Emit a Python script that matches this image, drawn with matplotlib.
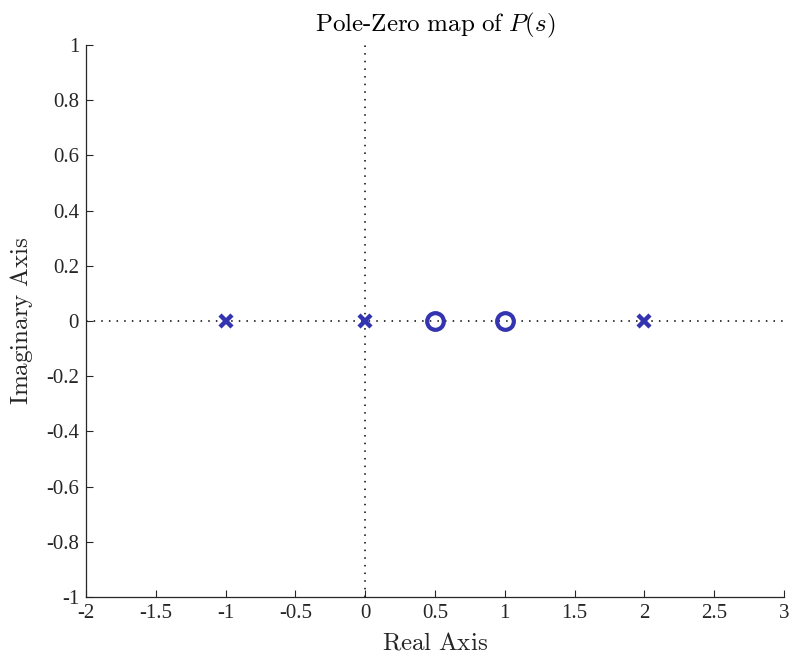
import numpy as np
import matplotlib.pyplot as plt
import matplotlib

matplotlib.rcParams['font.family'] = ['Liberation Serif', 'DejaVu Serif']
matplotlib.rcParams['mathtext.fontset'] = 'cm'

# poles and zeros of P(s)
pole_re = [-1.0, 0.0, 2.0]
pole_im = [0.0, 0.0, 0.0]
zero_re = [0.5, 1.0]
zero_im = [0.0, 0.0]

xticks = [-2, -1.5, -1, -0.5, 0, 0.5, 1, 1.5, 2, 2.5, 3]
yticks = [-1, -0.8, -0.6, -0.4, -0.2, 0, 0.2, 0.4, 0.6, 0.8, 1]

blue = '#3434b0'
dark = '#262626'

fig = plt.figure(figsize=(7.89, 6.55), dpi=100)
ax = fig.add_axes([86 / 789, 1 - 597 / 655, (784 - 86) / 789, (597 - 45) / 655])

# dotted axes through the origin
ax.axhline(0, color='black', linestyle=(0, (1, 4)), linewidth=1.1, zorder=1)
ax.axvline(0, color='black', linestyle=(0, (1, 4)), linewidth=1.1, zorder=1)

ax.plot(pole_re, pole_im, linestyle='none', marker='x', markersize=9,
        markeredgewidth=3.2, color=blue, zorder=3)
ax.plot(zero_re, zero_im, linestyle='none', marker='o', markersize=12,
        markeredgewidth=3.0, markerfacecolor='none', markeredgecolor=blue, zorder=3)

ax.set_xlim(-2, 3)
ax.set_ylim(-1, 1)
ax.set_xticks(xticks)
ax.set_yticks(yticks)
ax.set_xticklabels([f'{t:g}' for t in xticks])
ax.set_yticklabels([f'{t:g}' for t in yticks])

for side in ['top', 'right']:
    ax.spines[side].set_visible(False)
for side in ['left', 'bottom']:
    ax.spines[side].set_color(dark)
    ax.spines[side].set_linewidth(0.9)

ax.tick_params(direction='in', length=5, width=0.8, colors=dark,
               labelsize=15, labelcolor=dark, pad=5)

ax.set_title(r'$\mathrm{Pole\text{-}Zero\ map\ of\ }P(s)$', fontsize=18,
             color='black', pad=10)
ax.set_xlabel(r'$\mathrm{Real\ Axis}$', fontsize=18, color=dark, labelpad=7)
ax.set_ylabel(r'$\mathrm{Imaginary\ Axis}$', fontsize=18, color=dark, labelpad=8)

fig.savefig('out.png', dpi=100)
